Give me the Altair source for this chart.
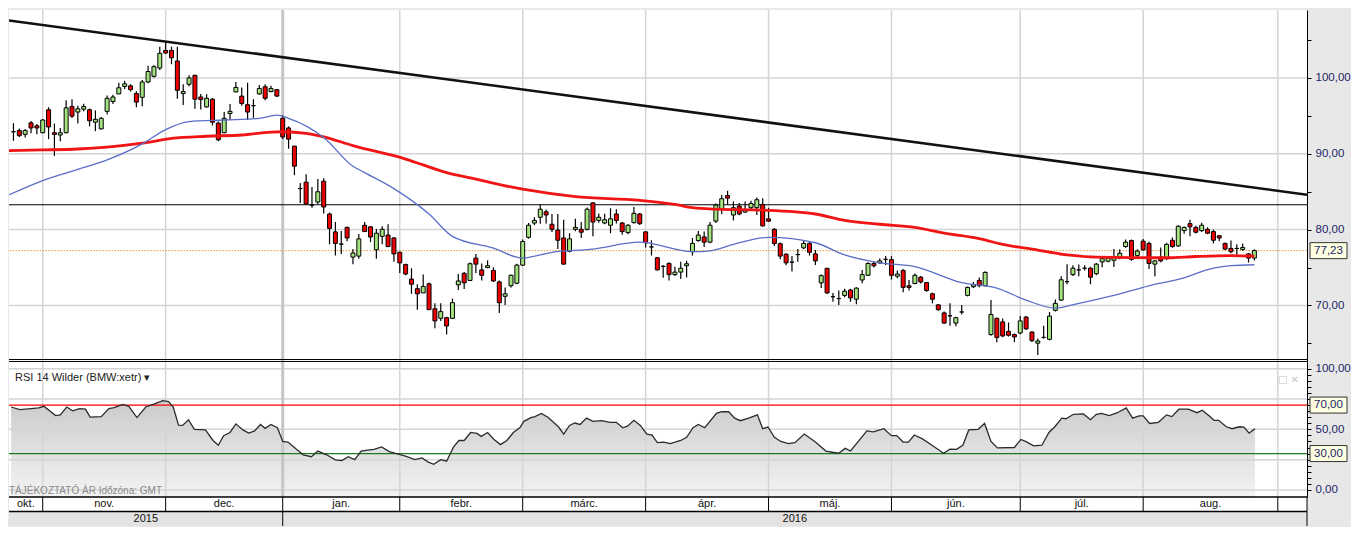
import altair as alt
import pandas as pd

# ---------------- data ----------------
# daily candles, index 0 = first visible trading day (late October 2015)
opens = [92.90, 93.06, 92.56, 94.07, 93.69, 92.77, 95.80, 92.77, 92.47, 92.77,
         96.22, 95.50, 95.88, 95.80, 94.16, 93.28, 95.59, 96.89, 97.89, 98.87,
         98.95, 97.94, 97.44, 99.46, 100.21, 101.30, 103.62, 103.62, 102.23, 97.94,
         99.16, 100.34, 97.48, 96.18, 97.19, 94.04, 92.77, 95.30, 98.15, 97.60,
         96.47, 96.34, 97.89, 98.83, 98.20, 98.45, 94.67, 93.40, 91.01, 85.41,
         86.25, 83.23, 83.64, 86.38, 82.05, 79.70, 78.10, 80.29, 76.38, 76.51,
         80.57, 80.37, 77.34, 79.11, 79.28, 78.90, 77.01, 75.41, 73.48, 72.22,
         71.66, 72.85, 69.57, 68.31, 68.39, 68.31, 72.72, 74.24, 73.30, 76.25,
         74.69, 74.99, 74.62, 73.10, 71.21, 72.60, 72.93, 75.32, 78.98, 80.87,
         81.63, 82.35, 80.71, 79.95, 78.90, 77.14, 80.04, 80.04, 80.04, 83.52,
         81.21, 80.87, 80.58, 82.06, 80.87, 79.61, 80.92, 82.06, 79.70, 77.72,
         76.29, 75.16, 75.54, 74.07, 74.40, 75.24, 77.09, 78.56, 79.03, 78.35,
         81.12, 82.69, 84.49, 81.93, 83.10, 82.31, 82.89, 82.89, 83.32, 81.42,
         80.04, 78.14, 76.76, 75.71, 76.71, 77.59, 78.18, 76.80, 72.98, 74.91,
         71.16, 70.91, 71.33, 72.04, 70.83, 73.36, 73.98, 75.54, 75.62, 76.08,
         76.04, 73.86, 74.62, 72.60, 72.89, 73.73, 73.02, 71.54, 70.08, 69.02,
         68.64, 67.68, 69.14, 71.33, 72.47, 73.30, 72.60, 66.17, 68.31, 67.84,
         66.58, 66.17, 66.37, 68.47, 66.50, 65.03, 65.79, 65.54, 69.36, 70.71,
         73.14, 74.07, 74.69, 74.91, 74.91, 74.19, 75.75, 75.83, 75.96, 76.25,
         77.77, 78.56, 76.58, 78.48, 78.18, 75.45, 76.38, 76.17, 78.60, 77.85,
         79.87, 80.79, 80.29, 79.87, 80.04, 79.74, 79.19, 78.18, 77.52, 77.52,
         77.39, 76.80, 76.25]
highs = [94.03, 93.32, 93.28, 94.33, 93.91, 94.58, 96.13, 93.98, 93.40, 97.06,
         97.19, 96.34, 96.60, 95.96, 95.71, 94.83, 97.69, 97.77, 99.37, 99.62,
         99.16, 98.23, 99.71, 101.60, 101.68, 104.12, 104.75, 104.12, 104.12, 99.16,
         100.34, 100.42, 97.89, 97.86, 97.35, 94.24, 95.50, 96.56, 99.46, 98.74,
         99.37, 97.19, 99.08, 99.16, 98.95, 98.52, 95.08, 93.61, 91.05, 86.13,
         87.30, 85.62, 86.67, 86.76, 82.26, 81.00, 79.82, 80.40, 77.43, 79.41,
         81.00, 80.45, 80.08, 80.45, 80.71, 79.03, 77.10, 75.50, 74.91, 72.80,
         74.07, 73.02, 70.28, 70.28, 68.50, 70.91, 74.15, 74.40, 75.66, 76.80,
         75.54, 75.95, 75.03, 73.30, 72.38, 74.10, 75.50, 78.69, 80.87, 81.63,
         83.32, 82.66, 82.06, 82.06, 81.30, 79.53, 81.42, 81.00, 82.90, 83.60,
         82.14, 82.10, 82.81, 82.69, 81.00, 80.70, 82.98, 82.20, 79.80, 78.60,
         76.40, 75.30, 75.70, 75.10, 75.75, 75.90, 78.90, 79.82, 79.74, 81.00,
         83.44, 84.58, 85.12, 83.73, 83.50, 83.70, 83.80, 84.24, 84.15, 82.89,
         80.20, 78.30, 76.90, 76.51, 77.43, 78.60, 78.40, 77.30, 74.10, 74.95,
         71.63, 71.97, 72.20, 72.20, 72.40, 74.69, 75.70, 75.80, 76.20, 76.51,
         76.50, 74.60, 74.80, 73.35, 74.20, 73.90, 73.10, 71.70, 70.20, 69.20,
         70.28, 68.50, 70.08, 72.50, 73.10, 73.70, 74.50, 70.71, 68.40, 68.30,
         67.76, 66.30, 68.60, 68.60, 66.60, 65.66, 67.34, 69.14, 70.78, 73.86,
         75.45, 75.30, 75.41, 75.30, 75.10, 75.60, 76.30, 76.40, 77.43, 77.40,
         78.69, 78.70, 77.40, 78.78, 78.40, 76.00, 77.64, 78.27, 78.98, 80.58,
         80.40, 81.30, 80.50, 80.92, 80.30, 80.00, 79.30, 78.30, 78.56, 78.06,
         78.18, 76.90, 77.40]
lows = [91.72, 92.22, 92.14, 92.69, 92.56, 92.69, 91.93, 89.70, 91.64, 92.69,
        94.70, 93.98, 95.59, 93.61, 92.98, 93.19, 95.17, 96.56, 97.86, 98.52,
        98.20, 96.13, 96.25, 99.28, 100.04, 101.05, 103.15, 101.80, 97.26, 96.43,
        98.87, 95.93, 95.84, 96.09, 93.73, 91.64, 92.69, 94.45, 98.11, 96.34,
        94.45, 94.74, 97.77, 97.06, 98.11, 97.52, 91.93, 90.67, 87.18, 83.52,
        83.32, 82.89, 83.39, 82.13, 78.06, 76.58, 76.80, 78.47, 75.45, 76.17,
        79.70, 78.35, 76.17, 78.06, 77.68, 75.75, 74.27, 73.98, 71.54, 69.45,
        71.63, 69.40, 67.00, 67.97, 66.17, 68.20, 72.04, 72.17, 73.27, 74.27,
        73.30, 74.93, 73.10, 69.02, 70.08, 72.38, 72.80, 75.20, 78.80, 80.60,
        80.79, 80.80, 79.70, 77.43, 75.40, 77.00, 79.80, 78.90, 79.90, 79.11,
        80.90, 80.70, 79.53, 80.80, 79.32, 79.40, 80.80, 80.60, 77.64, 76.58,
        74.60, 73.64, 73.30, 73.90, 73.50, 73.70, 76.58, 78.40, 77.72, 78.20,
        80.87, 82.06, 83.32, 81.21, 81.90, 82.20, 82.70, 81.93, 80.40, 81.00,
        77.85, 76.08, 75.30, 74.49, 75.75, 77.40, 76.58, 75.32, 72.29, 71.50,
        70.49, 70.08, 71.10, 70.49, 70.15, 72.93, 73.90, 75.00, 75.50, 75.32,
        73.43, 73.60, 71.75, 71.97, 72.80, 72.90, 71.80, 70.28, 69.30, 67.60,
        67.34, 67.25, 68.81, 71.20, 72.30, 72.40, 72.50, 66.00, 65.16, 65.80,
        65.90, 65.16, 66.20, 66.80, 65.20, 63.47, 65.60, 65.40, 69.20, 70.60,
        72.80, 73.90, 73.86, 74.60, 72.80, 74.00, 75.03, 75.70, 75.07, 76.10,
        77.60, 75.90, 76.40, 77.20, 74.82, 73.86, 75.70, 76.00, 77.60, 77.70,
        79.45, 79.11, 79.50, 79.70, 79.40, 78.18, 78.47, 77.30, 76.90, 76.51,
        77.20, 75.66, 75.92]
closes = [92.90, 92.39, 93.06, 93.40, 93.40, 94.45, 93.53, 92.56, 92.77, 96.05,
          94.96, 95.93, 96.22, 94.36, 94.54, 94.67, 97.31, 97.48, 98.70, 99.21,
          98.45, 96.81, 99.46, 100.84, 101.48, 103.24, 103.28, 102.65, 98.36, 98.20,
          100.00, 97.19, 97.14, 97.31, 94.16, 91.84, 94.67, 95.59, 98.74, 96.63,
          95.50, 96.34, 98.61, 97.31, 98.61, 97.60, 92.22, 91.93, 88.36, 85.41,
          83.39, 83.23, 84.99, 82.98, 80.16, 78.18, 78.10, 78.90, 76.92, 78.78,
          79.74, 79.03, 79.53, 80.04, 77.77, 76.80, 75.62, 74.15, 72.80, 71.54,
          72.51, 69.45, 67.97, 69.19, 67.30, 70.37, 73.23, 72.98, 75.50, 75.45,
          73.98, 75.24, 73.23, 70.37, 71.54, 73.98, 75.32, 78.44, 80.58, 81.21,
          82.69, 81.93, 80.04, 78.60, 75.45, 78.78, 80.29, 79.66, 82.69, 81.00,
          81.63, 81.30, 81.42, 81.21, 79.74, 80.58, 82.14, 80.79, 78.27, 77.72,
          74.69, 75.16, 74.07, 74.40, 74.91, 75.50, 78.18, 79.28, 78.35, 80.58,
          83.23, 84.07, 84.15, 82.89, 82.06, 82.60, 83.44, 83.94, 80.49, 81.12,
          78.18, 76.51, 75.62, 75.71, 76.71, 78.18, 77.01, 75.88, 73.93, 71.66,
          71.16, 70.91, 71.88, 71.00, 72.29, 74.07, 75.54, 75.24, 75.88, 76.08,
          73.98, 74.15, 72.38, 72.38, 73.98, 73.10, 71.97, 70.83, 69.45, 67.68,
          68.64, 68.39, 69.14, 72.38, 72.72, 72.60, 74.36, 68.81, 65.79, 65.99,
          66.08, 65.86, 67.97, 66.92, 65.36, 65.32, 65.79, 68.60, 70.28, 73.39,
          73.14, 74.91, 74.69, 74.91, 73.73, 75.45, 76.17, 76.25, 76.38, 76.88,
          78.35, 76.08, 77.18, 77.34, 75.54, 75.88, 75.88, 78.06, 77.77, 80.45,
          80.29, 80.37, 79.66, 80.58, 79.53, 78.60, 78.90, 77.43, 77.09, 77.52,
          77.64, 76.25, 77.23]

# slow moving average (red), sampled at candle indices
ma_slow_i = [-1, 5, 11, 16, 22, 27, 33, 39, 44, 46, 50, 53, 58, 67, 74, 79, 85, 87, 96,
             107, 113, 116, 120, 128, 137, 142, 148, 154, 159, 165, 169, 174, 180, 185,
             197, 202, 208, 212]
ma_slow_v = [90.40, 90.50, 90.63, 90.88, 91.39, 92.02, 92.31, 92.47, 92.85, 92.90, 92.69,
             92.22, 91.08, 89.30, 87.52, 86.67, 85.62, 85.33, 84.36, 83.86, 83.32, 82.89,
             82.69, 82.56, 82.06, 81.21, 80.71, 80.29, 79.53, 78.81, 78.06, 77.43, 76.67,
             76.38, 76.29, 76.46, 76.58, 76.51]
# fast moving average (blue)
ma_fast_i = [-1, 5, 11, 16, 22, 26, 30, 36, 42, 45, 47, 53, 58, 60, 65, 71, 75, 82, 87, 92,
             99, 107, 116, 119, 123, 129, 137, 142, 148, 154, 162, 168, 173, 178, 182, 188,
             194, 199, 205, 208, 212]
ma_fast_v = [84.50, 86.47, 87.93, 89.19, 91.30, 93.19, 94.24, 94.45, 94.67, 95.08, 94.67,
             92.14, 88.36, 87.52, 85.41, 82.06, 79.11, 77.55, 76.25, 77.01, 77.43, 78.35,
             77.09, 77.21, 78.06, 78.98, 78.27, 76.67, 75.62, 75.12, 73.01, 72.29, 70.71,
             69.65, 70.28, 71.34, 72.60, 73.43, 74.91, 75.25, 75.37]

# RSI 14 (Wilder)
rsi_i = [-0.4, 1.1, 3.0, 4.3, 5.2, 7.2, 8.0, 9.1, 10.1, 11.3, 12.3, 13.1, 15.0, 16.3, 17.2,
         18.7, 19.7, 21.1, 22.6, 24.1, 25.5, 26.5, 27.3, 28.2, 28.9, 29.9, 30.9, 32.8, 34.1,
         35.0, 35.9, 37.0, 38.0, 39.2, 40.2, 41.2, 42.2, 43.0, 44.0, 45.1, 46.0, 46.9, 48.3,
         49.5, 50.9, 52.0, 53.5, 55.0, 56.1, 57.2, 58.3, 59.4, 60.5, 61.6, 62.9, 64.2, 65.6,
         67.1, 68.6, 69.8, 70.8, 71.8, 73.0, 74.0, 75.2, 76.1, 77.0, 78.1, 79.2, 79.9, 81.0,
         82.1, 83.2, 84.3, 85.4, 86.5, 87.2, 88.4, 89.1, 90.2, 91.3, 92.4, 93.1, 94.0, 95.0,
         95.9, 96.8, 97.9, 99.0, 100.5, 101.9, 103.0, 104.1, 104.9, 106.0, 107.1, 108.2,
         109.1, 110.0, 111.1, 112.2, 114.0, 115.0, 116.1, 117.0, 118.1, 120.1, 121.0, 122.2,
         123.2, 124.2, 125.6, 127.1, 128.0, 128.9, 130.0, 131.1, 132.4, 133.5, 135.1, 136.9,
         138.8, 139.9, 141.0, 142.1, 143.0, 145.8, 146.9, 148.7, 150.0, 150.9, 152.0, 152.9,
         153.9, 155.3, 157.1, 158.9, 160.0, 161.1, 162.2, 163.2, 164.8, 165.9, 167.0, 168.1,
         171.0, 172.1, 172.9, 174.3, 175.7, 176.9, 177.9, 179.1, 179.8, 181.1, 182.8, 184.0,
         185.0, 185.9, 187.2, 188.6, 190.1, 191.2, 192.3, 193.0, 194.1, 195.6, 197.0, 197.9,
         199.1, 200.7, 202.2, 203.1, 204.4, 205.1, 205.9, 207.2, 208.2, 209.4, 210.2, 211.1,
         212.1]
rsi_v = [68.4, 66.3, 67.1, 67.6, 69.0, 61.3, 61.9, 68.4, 65.3, 67.1, 66.6, 60.0, 60.5, 67.1,
         67.9, 70.6, 69.0, 59.7, 68.4, 71.0, 73.7, 72.9, 68.4, 53.4, 53.2, 57.9, 50.0, 49.5,
         40.8, 36.9, 44.8, 47.4, 54.5, 49.5, 46.9, 48.7, 54.0, 50.8, 54.0, 51.3, 40.0, 39.5,
         33.7, 29.0, 27.4, 32.1, 29.0, 24.8, 24.2, 27.4, 25.0, 32.1, 32.9, 33.5, 35.5, 31.6,
         29.8, 27.6, 25.0, 26.4, 23.2, 21.1, 25.0, 23.7, 35.5, 40.8, 40.8, 47.4, 46.6, 44.2,
         47.4, 41.6, 37.4, 40.8, 47.4, 51.3, 56.6, 59.7, 60.5, 63.1, 60.0, 55.2, 52.1, 46.1,
         53.2, 55.2, 54.0, 59.2, 56.6, 57.1, 55.8, 55.8, 51.3, 52.6, 57.4, 53.2, 46.1, 45.3,
         39.0, 39.5, 38.2, 40.8, 43.4, 51.3, 54.0, 51.3, 63.1, 64.5, 64.5, 59.2, 57.1, 59.2,
         61.9, 50.5, 51.9, 43.4, 40.0, 38.2, 39.0, 46.1, 40.0, 32.1, 31.1, 30.3, 34.3, 32.1,
         48.7, 47.9, 50.5, 44.8, 44.8, 39.5, 39.5, 45.3, 42.1, 36.3, 30.3, 33.7, 33.5, 36.9,
         49.5, 50.0, 54.8, 40.0, 34.7, 35.0, 41.6, 40.0, 36.3, 36.9, 47.4, 52.1, 59.2, 58.7,
         62.4, 62.7, 57.9, 62.4, 63.1, 61.3, 63.7, 67.6, 59.2, 61.1, 61.1, 54.8, 55.8, 61.9,
         60.5, 66.6, 66.6, 63.7, 65.8, 60.5, 57.4, 57.4, 52.1, 50.5, 52.1, 51.9, 46.9, 50.5]

trend_i = [-0.761, 220.99]
trend_v = [107.56, 84.60]
resistance_level = [83.28]
last_close = [77.23]
rsi_upper = [70]
rsi_lower = [30]

price_grid = [70, 80, 90, 100]
price_ticks = [65, 70, 75, 80, 85, 90, 95, 100, 105]
rsi_grid = [0, 25, 50, 75, 100]
rsi_ticks = [0, 5, 10, 15, 20, 25, 30, 35, 40, 45, 50, 55, 60, 65, 70, 75, 80, 85, 90, 95, 100]

month_labels = ["okt.", "nov.", "dec.", "jan.", "febr.", "márc.", "ápr.", "máj.", "jún.", "júl.", "aug.", ""]
month_start = [-0.761, 5, 26, 46, 66, 87, 108, 129, 150, 172, 193, 216]
year_labels = ["2015", "2016"]
year_start = [-0.761, 46]

# ---------------- layout / style ----------------
X_MIN, X_MAX = -0.761, 220.99
P_MIN, P_MAX = 62.55, 108.95
R_MIN, R_MAX = -5.8, 105.5
W = 1298
H_MAIN, H_RSI, H_TIME = 352, 135, 29
FONT = "Liberation Sans"
AXIS_TXT = "#1b2466"
GRID = "#d4d4d4"
UP, DOWN = "#a3e47f", "#ec0000"

xs = alt.Scale(domain=[X_MIN, X_MAX], nice=False, zero=False)
ps = alt.Scale(domain=[P_MIN, P_MAX], nice=False, zero=False)
rs = alt.Scale(domain=[R_MIN, R_MAX], nice=False, zero=False)
ts = alt.Scale(domain=[0, 2], nice=False, zero=False)

LBL_P = "datum.value % 10 == 0 ? replace(format(datum.value, '.2f'), '.', ',') : ''"
LBL_R = "(datum.value == 0 || datum.value == 50 || datum.value == 100) ? replace(format(datum.value, '.2f'), '.', ',') : ''"


def right_axis(values, expr):
    return alt.Axis(orient="right", values=values, labelExpr=expr, tickSize=4, tickColor="#000",
                    domainColor="#000", domainWidth=1, labelColor=AXIS_TXT, labelFont=FONT,
                    labelFontSize=11.5, labelPadding=4, grid=False, title=None, labelOverlap=False)


P_AXIS = right_axis(price_ticks, LBL_P)
R_AXIS = right_axis(rsi_ticks, LBL_R)


def X(f):
    return alt.X(f"{f}:Q", scale=xs, axis=None)


def YP(f):
    return alt.Y(f"{f}:Q", scale=ps, axis=P_AXIS)


def YR(f):
    return alt.Y(f"{f}:Q", scale=rs, axis=R_AXIS)


def YT(f):
    return alt.Y(f"{f}:Q", scale=ts, axis=None)


grid_months = [m for m in month_start[1:] if m != 46]
year_line = [46]

# ---------------- main price panel ----------------
candles = pd.DataFrame({"i": list(range(len(closes))), "o": opens, "h": highs, "l": lows, "c": closes})

hgrid = alt.Chart(pd.DataFrame({"v": price_grid})).mark_rule(color=GRID, strokeWidth=1.5).encode(y=YP("v"))
vgrid = alt.Chart(pd.DataFrame({"i": grid_months})).mark_rule(color=GRID, strokeWidth=1.5).encode(x=X("i"))
vyear = alt.Chart(pd.DataFrame({"i": year_line})).mark_rule(color="#c6c6c6", strokeWidth=3).encode(x=X("i"))
resist = alt.Chart(pd.DataFrame({"v": resistance_level})).mark_rule(color="#000", strokeWidth=1.2).encode(y=YP("v"))
lastline = alt.Chart(pd.DataFrame({"v": last_close})).mark_rule(
    color="#e39a3c", strokeWidth=1, strokeDash=[1.5, 1.5]).encode(y=YP("v"))
trend = alt.Chart(pd.DataFrame({"i": trend_i, "v": trend_v})).mark_line(
    color="#111", strokeWidth=2.6, clip=True).encode(x=X("i"), y=YP("v"))
wicks = alt.Chart(candles).mark_rule(color="#000", strokeWidth=1.2).encode(x=X("i"), y=YP("l"), y2="h")
bodies = alt.Chart(candles).transform_calculate(
    x0="datum.i - 0.34", x1="datum.i + 0.34"
).mark_rect(stroke="#000", strokeWidth=1).encode(
    x=X("x0"), x2="x1", y=YP("o"), y2="c",
    fill=alt.condition("datum.c >= datum.o", alt.value(UP), alt.value(DOWN)))
ma_slow = alt.Chart(pd.DataFrame({"i": ma_slow_i, "v": ma_slow_v})).mark_line(
    color="#f01414", strokeWidth=2.8, clip=True, interpolate="monotone").encode(x=X("i"), y=YP("v"))
ma_fast = alt.Chart(pd.DataFrame({"i": ma_fast_i, "v": ma_fast_v})).mark_line(
    color="#5a6ec8", strokeWidth=1.3, clip=True, interpolate="monotone").encode(x=X("i"), y=YP("v"))
bottom_lines = alt.Chart(pd.DataFrame({"v": [62.88, 62.62]})).mark_rule(color="#000", strokeWidth=1).encode(y=YP("v"))

lbl_df = pd.DataFrame({"xr": [X_MAX], "v": last_close, "t": [f"{last_close[0]:.2f}".replace(".", ",")]})
last_box = alt.Chart(lbl_df).mark_rect(fill="#ffffe1", stroke="#333", strokeWidth=1,
                                       xOffset=3, x2Offset=40, yOffset=-8, y2Offset=8).encode(
    x=X("xr"), x2="xr", y=YP("v"), y2="v")
last_txt = alt.Chart(lbl_df).mark_text(font=FONT, fontSize=11.5, color=AXIS_TXT, dx=21.5,
                                       align="center", baseline="middle").encode(
    x=X("xr"), y=YP("v"), text="t:N")

main = alt.layer(hgrid, vgrid, vyear, resist, lastline, trend, wicks, bodies, ma_slow, ma_fast,
                 bottom_lines, last_box, last_txt).properties(width=W, height=H_MAIN)

# ---------------- RSI panel ----------------
rsi_df = pd.DataFrame({"i": rsi_i, "v": rsi_v})
grad = alt.Gradient(gradient="linear", x1=0, x2=0, y1=0, y2=1,
                    stops=[alt.GradientStop(color="#cbcbcb", offset=0),
                           alt.GradientStop(color="#f3f3f3", offset=1)])
r_hgrid = alt.Chart(pd.DataFrame({"v": rsi_grid})).mark_rule(color=GRID, strokeWidth=1.5).encode(y=YR("v"))
r_vgrid = alt.Chart(pd.DataFrame({"i": grid_months})).mark_rule(color=GRID, strokeWidth=1.5).encode(x=X("i"))
r_vyear = alt.Chart(pd.DataFrame({"i": year_line})).mark_rule(color="#c6c6c6", strokeWidth=3).encode(x=X("i"))
r_area = alt.Chart(rsi_df).mark_area(color=grad).encode(x=X("i"), y=YR("v"), y2=alt.datum(R_MIN))
r_up = alt.Chart(pd.DataFrame({"v": rsi_upper})).mark_rule(color="#ff0000", strokeWidth=1.2).encode(y=YR("v"))
r_lo = alt.Chart(pd.DataFrame({"v": rsi_lower})).mark_rule(color="#1e7a1e", strokeWidth=1.2).encode(y=YR("v"))
r_line = alt.Chart(rsi_df).mark_line(color="#2b2b2b", strokeWidth=1.3).encode(x=X("i"), y=YR("v"))

lvl_df = pd.DataFrame({"xr": [X_MAX, X_MAX], "v": rsi_upper + rsi_lower,
                       "t": [f"{rsi_upper[0]:.2f}".replace(".", ","), f"{rsi_lower[0]:.2f}".replace(".", ",")]})
r_box = alt.Chart(lvl_df).mark_rect(fill="#ffffe1", stroke="#333", strokeWidth=1,
                                    xOffset=3, x2Offset=40, yOffset=-8, y2Offset=8).encode(
    x=X("xr"), x2="xr", y=YR("v"), y2="v")
r_boxtxt = alt.Chart(lvl_df).mark_text(font=FONT, fontSize=11.5, color=AXIS_TXT, dx=21.5,
                                       align="center", baseline="middle").encode(
    x=X("xr"), y=YR("v"), text="t:N")

notes = pd.DataFrame({"x": [X_MIN], "y": [92.0], "t": ["RSI 14 Wilder (BMW:xetr) \u25BE"]})
r_title = alt.Chart(notes).mark_text(font=FONT, fontSize=11, color="#222", align="left",
                                     baseline="middle", dx=6).encode(x=X("x"), y=YR("y"), text="t:N")
foot = pd.DataFrame({"x": [X_MIN], "y": [-1.0], "t": ["TÁJÉKOZTATÓ ÁR   Időzóna: GMT"]})
r_foot = alt.Chart(foot).mark_text(font=FONT, fontSize=10, color="#8a8a8a", align="left",
                                   baseline="middle", dx=0).encode(x=X("x"), y=YR("y"), text="t:N")
icons = pd.DataFrame({"x": [X_MAX], "y": [90.5], "t": ["\u25A1 \u2715"]})
r_icons = alt.Chart(icons).mark_text(font="DejaVu Sans", fontSize=10, color="#c4c4c4", align="right",
                                     baseline="middle", dx=-8).encode(x=X("x"), y=YR("y"), text="t:N")

rsi = alt.layer(r_area, r_hgrid, r_vgrid, r_vyear, r_up, r_lo, r_line, r_title, r_foot, r_icons,
                r_box, r_boxtxt).properties(width=W, height=H_RSI)

# ---------------- time axis ----------------
months = pd.DataFrame({"s": month_start, "e": month_start[1:] + [X_MAX], "t": month_labels})
years = pd.DataFrame({"s": year_start, "e": year_start[1:] + [X_MAX], "t": year_labels})

t_month_bg = alt.Chart(months).transform_calculate(y0="1", y1="2").mark_rect(fill="white").encode(
    x=X("s"), x2="e", y=YT("y0"), y2="y1")
t_year_bg = alt.Chart(years).transform_calculate(y0="0", y1="1").mark_rect(fill="#e3e3e3").encode(
    x=X("s"), x2="e", y=YT("y0"), y2="y1")
t_month_sep = alt.Chart(pd.DataFrame({"i": month_start[1:] + [X_MAX]})).transform_calculate(
    y0="1", y1="2").mark_rule(color="#000", strokeWidth=1).encode(x=X("i"), y=YT("y0"), y2="y1")
t_year_sep = alt.Chart(pd.DataFrame({"i": year_start[1:] + [X_MAX]})).transform_calculate(
    y0="0", y1="1").mark_rule(color="#000", strokeWidth=1).encode(x=X("i"), y=YT("y0"), y2="y1")
t_hlines = alt.Chart(pd.DataFrame({"v": [2, 1]})).mark_rule(color="#000", strokeWidth=1.5).encode(y=YT("v"))
t_mtxt = alt.Chart(months).transform_calculate(m="(datum.s + datum.e) / 2", y="1.5").mark_text(
    font=FONT, fontSize=11, color="#111", baseline="middle").encode(x=X("m"), y=YT("y"), text="t:N")
t_ytxt = alt.Chart(years).transform_calculate(m="(datum.s + datum.e) / 2", y="0.5").mark_text(
    font=FONT, fontSize=11, color="#111", baseline="middle").encode(x=X("m"), y=YT("y"), text="t:N")

timeax = alt.layer(t_month_bg, t_year_bg, t_month_sep, t_year_sep, t_hlines, t_mtxt, t_ytxt).properties(
    width=W, height=H_TIME)

chart = alt.vconcat(main, rsi, timeax, spacing=0, bounds="flush").properties(
    background="#e8e8e8", padding=0
).configure_view(stroke=None, fill="white")

chart.save("out.html", embed_options={"renderer": "svg", "actions": False})
